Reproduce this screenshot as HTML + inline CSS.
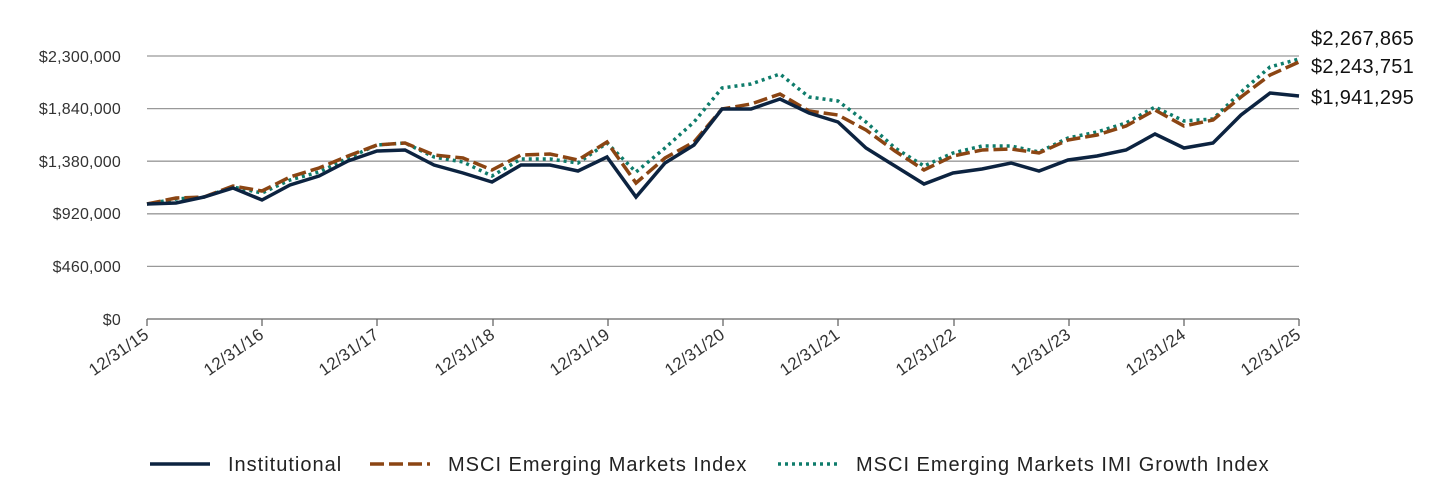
<!DOCTYPE html>
<html><head><style>
body{margin:0;background:#fff;}
svg{display:block;font-family:"Liberation Sans",sans-serif;}
</style></head><body>
<svg width="1440" height="480" viewBox="0 0 1440 480">
<g stroke="#999" stroke-width="1.3">
<line x1="147" y1="56" x2="1299" y2="56"/>
<line x1="147" y1="108.6" x2="1299" y2="108.6"/>
<line x1="147" y1="161.2" x2="1299" y2="161.2"/>
<line x1="147" y1="213.8" x2="1299" y2="213.8"/>
<line x1="147" y1="266.4" x2="1299" y2="266.4"/>
</g>
<line x1="147" y1="319" x2="1299" y2="319" stroke="#666" stroke-width="1.3"/>
<g stroke="#666" stroke-width="1.3">
<line x1="147" y1="319" x2="147" y2="326"/><line x1="262" y1="319" x2="262" y2="326"/><line x1="377" y1="319" x2="377" y2="326"/><line x1="493" y1="319" x2="493" y2="326"/><line x1="608" y1="319" x2="608" y2="326"/><line x1="723" y1="319" x2="723" y2="326"/><line x1="838" y1="319" x2="838" y2="326"/><line x1="954" y1="319" x2="954" y2="326"/><line x1="1069" y1="319" x2="1069" y2="326"/><line x1="1184" y1="319" x2="1184" y2="326"/><line x1="1299" y1="319" x2="1299" y2="326"/>
</g>
<g font-size="16" fill="#333" text-anchor="end" letter-spacing="0.2">
<text x="121" y="62">$2,300,000</text>
<text x="121" y="114">$1,840,000</text>
<text x="121" y="167">$1,380,000</text>
<text x="121" y="219">$920,000</text>
<text x="121" y="272">$460,000</text>
<text x="121" y="325">$0</text>
</g>
<g font-size="17" fill="#333" text-anchor="end" letter-spacing="0.3">
<text transform="translate(150,337) rotate(-35)">12/31/15</text>
<text transform="translate(265,337) rotate(-35)">12/31/16</text>
<text transform="translate(380,337) rotate(-35)">12/31/17</text>
<text transform="translate(496,337) rotate(-35)">12/31/18</text>
<text transform="translate(611,337) rotate(-35)">12/31/19</text>
<text transform="translate(726,337) rotate(-35)">12/31/20</text>
<text transform="translate(841,337) rotate(-35)">12/31/21</text>
<text transform="translate(957,337) rotate(-35)">12/31/22</text>
<text transform="translate(1072,337) rotate(-35)">12/31/23</text>
<text transform="translate(1187,337) rotate(-35)">12/31/24</text>
<text transform="translate(1302,337) rotate(-35)">12/31/25</text>
</g>
<polyline fill="none" stroke="#0e7c6b" stroke-width="3.5" stroke-dasharray="3,4" points="147,204 176,199 204,197 233,187 262,193 290,180 319,172 348,158 377,145 405,143 434,157 463,162 492,176 521,159 550,159 578,163 607,143 636,172 665,148 694,122 722,88 751,84 780,74 809,97 838,101 866,122 895,148 924,166 953,153 982,146 1011,146 1039,152 1068,138 1097,132 1126,123 1155,107 1184,121 1213,119 1241,92 1270,67 1299,59"/>
<polyline fill="none" stroke="#8b4513" stroke-width="3.5" stroke-dasharray="14,5" points="147,204 176,198 204,197 233,186 262,191 290,177 319,168 348,156 377,145 405,143 434,155 463,158 492,170 521,155 550,154 578,160 607,142 636,183 665,158 694,142 722,109 751,104 780,94 809,111 838,115 866,130 895,151 924,170 953,156 982,150 1011,149 1039,153 1068,140 1097,135 1126,126 1155,110 1184,126 1213,120 1241,97 1270,75 1299,62"/>
<polyline fill="none" stroke="#0c2340" stroke-width="3.5" points="147,204 176,203 204,197 233,188 262,200 290,185 319,176 348,161 377,151 405,150 434,165 463,173 492,182 521,165 550,165 578,171 607,157 636,197 665,163 694,145 722,109 751,109 780,99 809,113 838,122 866,148 895,166 924,184 953,173 982,169 1011,163 1039,171 1068,160 1097,156 1126,150 1155,134 1184,148 1213,143 1241,115 1270,93 1299,96"/>
<g font-size="20" fill="#111" letter-spacing="0.3">
<text x="1311" y="45">$2,267,865</text>
<text x="1311" y="73">$2,243,751</text>
<text x="1311" y="104">$1,941,295</text>
</g>
<g font-size="20" fill="#222" letter-spacing="1">
<line x1="150" y1="464" x2="210" y2="464" stroke="#0c2340" stroke-width="3.5"/>
<text x="228" y="471">Institutional</text>
<line x1="370" y1="464" x2="430" y2="464" stroke="#8b4513" stroke-width="3.5" stroke-dasharray="14,5"/>
<text x="448" y="471">MSCI Emerging Markets Index</text>
<line x1="778" y1="464" x2="838" y2="464" stroke="#0e7c6b" stroke-width="3.5" stroke-dasharray="3,4"/>
<text x="856" y="471">MSCI Emerging Markets IMI Growth Index</text>
</g>
</svg>
</body></html>
